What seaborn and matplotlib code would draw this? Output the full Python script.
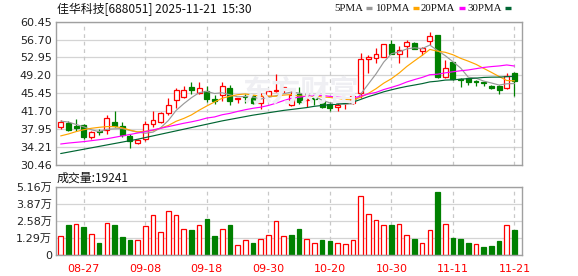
import numpy as np
import pandas as pd
import matplotlib
matplotlib.use("Agg")
import matplotlib.pyplot as plt
from matplotlib.lines import Line2D
import seaborn as sns

# ---------------- data ----------------
dates = ["08-22", "08-25", "08-26", "08-27", "08-28", "08-29", "09-01", "09-02", "09-03", "09-04",
         "09-05", "09-08", "09-09", "09-10", "09-11", "09-12", "09-15", "09-16", "09-17", "09-18",
         "09-19", "09-22", "09-23", "09-24", "09-25", "09-26", "09-29", "09-30", "10-09", "10-10",
         "10-13", "10-14", "10-15", "10-16", "10-17", "10-20", "10-21", "10-22", "10-23", "10-24",
         "10-27", "10-28", "10-29", "10-30", "10-31", "11-03", "11-04", "11-05", "11-06", "11-07",
         "11-10", "11-11", "11-12", "11-13", "11-14", "11-17", "11-18", "11-19", "11-20", "11-21"]

opens = [38.4, 39.2, 38.6, 38.7, 36.35, 37.6, 37.75, 39.35, 38.55, 36.5,
         34.95, 35.8, 39.1, 39.45, 41.2, 44.0, 44.6, 46.7, 45.6, 45.9,
         44.25, 45.0, 46.6, 44.2, 44.8, 45.0, 43.3, 44.8, 45.85, 46.5,
         42.9, 45.2, 44.05, 44.45, 43.85, 43.2, 42.5, 43.3, 43.35, 45.5,
         52.7, 52.8, 53.1, 55.8, 53.65, 55.4, 56.05, 54.4, 56.5, 57.65,
         48.8, 52.0, 48.5, 48.6, 48.0, 47.75, 47.05, 47.0, 46.5, 49.75]
highs = [39.8, 39.7, 40.0, 39.1, 37.45, 37.9, 40.9, 41.7, 39.4, 37.0,
         35.9, 39.7, 41.8, 41.5, 44.5, 46.6, 47.0, 47.85, 47.85, 46.95,
         45.1, 47.8, 47.2, 44.5, 45.3, 45.1, 45.4, 46.2, 49.45, 46.85,
         45.9, 46.7, 44.5, 45.0, 44.2, 43.7, 43.35, 43.7, 45.3, 53.9,
         53.5, 55.0, 55.8, 56.6, 55.3, 56.6, 56.1, 55.2, 58.2, 57.7,
         52.4, 52.0, 48.7, 48.6, 48.2, 47.9, 47.2, 47.1, 49.75, 49.8]
lows = [38.0, 37.5, 37.5, 35.9, 35.8, 36.6, 36.9, 38.4, 36.3, 34.0,
        34.7, 35.5, 38.4, 39.3, 40.8, 42.4, 44.5, 45.3, 45.2, 43.6,
        43.2, 43.8, 42.9, 43.3, 43.5, 43.2, 42.1, 44.7, 45.7, 45.4,
        42.7, 43.2, 42.6, 42.95, 42.3, 41.7, 41.8, 42.1, 43.2, 44.5,
        49.75, 51.7, 53.1, 53.6, 51.7, 53.1, 54.7, 53.5, 55.5, 48.7,
        48.6, 48.3, 46.8, 47.1, 47.0, 46.95, 46.4, 45.3, 46.4, 44.9]
closes = [39.35, 37.7, 38.2, 36.3, 37.4, 37.35, 40.2, 38.65, 36.6, 35.4,
          35.6, 39.1, 39.75, 41.2, 43.0, 46.1, 46.2, 46.05, 46.5, 44.3,
          43.9, 46.97, 43.9, 44.45, 44.6, 43.35, 44.8, 45.85, 46.05, 46.7,
          45.1, 43.7, 44.2, 44.3, 42.65, 42.3, 42.98, 43.45, 44.9, 52.55,
          53.0, 53.6, 55.8, 53.7, 54.5, 56.1, 54.8, 54.9, 57.45, 48.8,
          50.7, 48.45, 48.3, 47.75, 47.85, 47.6, 46.5, 46.15, 49.05, 48.1]
volumes = [14400, 22600, 23300, 21100, 15900, 9400, 24100, 22600, 13600, 11400,
           11200, 22300, 30000, 17400, 33000, 30000, 19600, 18800, 22600, 27000,
           14400, 19600, 22600, 7700, 11400, 9400, 12600, 15100, 26000, 14400,
           15100, 19600, 12600, 9200, 11400, 10700, 9200, 8400, 11400, 44900,
           30800, 26800, 22600, 22600, 23300, 15100, 12200, 9200, 19300, 47900,
           23300, 12900, 12200, 9400, 8400, 6200, 6900, 10700, 22600, 19241]

# moving-average values before enough history is in the window
ma5_head = [39.6, 39.4, 38.9, 38.4]
ma10_head = [36.5, 36.9, 37.4, 37.8, 38.1, 38.3, 38.45, 38.45, 38.2]
ma20_head = [34.8, 35.0, 35.15, 35.3, 35.5, 35.7, 35.9, 36.2, 36.5, 36.8, 37.1, 37.4,
             37.75, 38.1, 38.45, 38.8, 39.15, 39.45, 39.8]
ma30_head = [32.8, 33.1, 33.4, 33.7, 34.0, 34.3, 34.6, 34.9, 35.2, 35.5, 35.8, 36.15,
             36.5, 36.85, 37.2, 37.55, 37.9, 38.25, 38.6, 38.95, 39.3, 39.65, 39.95,
             40.25, 40.55, 40.85, 41.1, 41.35, 41.6]

price_ticks = [30.46, 34.21, 37.95, 41.70, 45.45, 49.20, 52.95, 56.70, 60.45]
vol_ticks = [0, 12900, 25800, 38700, 51600]
tick_dates = ["08-27", "09-08", "09-18", "09-30", "10-20", "10-30", "11-11", "11-21"]
ma_names = ["5PMA", "10PMA", "20PMA", "30PMA"]
title_text = "佳华科技[688051] 2025-11-21  15:30"

# ---------------- styling ----------------
sns.set_style("white")
plt.rcParams["font.family"] = ["DejaVu Sans", "Noto Sans CJK SC"]
cjk = ["Noto Sans CJK SC", "DejaVu Sans"]

RED = "#ff0000"
GREEN = "#008000"
MA_COLORS = ["#999999", "#ffa500", "#ff00ff", "#006633"]
GRID = "#d4d4d4"
FRAME = "#a0a0a0"

df = pd.DataFrame({"date": dates, "open": opens, "high": highs, "low": lows,
                   "close": closes, "volume": volumes})
df["x"] = np.arange(len(df))
cs = df["close"]
heads = [ma5_head, ma10_head, ma20_head, ma30_head]
for n, head in zip([5, 10, 20, 30], heads):
    m = cs.rolling(n).mean()
    m.iloc[:len(head)] = head
    df[f"ma{n}"] = m

W, H = 578, 276
fig = plt.figure(figsize=(W / 100, H / 100), dpi=100)
L, R = 56, 522.3
axp = fig.add_axes([L / W, 1 - 164.7 / H, (R - L) / W, (164.7 - 21.7) / H])
axv = fig.add_axes([L / W, 1 - 255.3 / H, (R - L) / W, (255.3 - 186.7) / H])

xlim = (-0.61, 60.02)
tick_pos = [dates.index(d) for d in tick_dates]

# watermark
fig.text(300 / W, 1 - 92 / H, "东方财富", family=cjk, fontsize=21, fontweight="bold",
         color="#efeff3", ha="center", va="center", zorder=0)
axp.patch.set_alpha(0)

# candles
up = df["close"] >= df["open"]
bw = 0.64
for i, r in df.iterrows():
    col = RED if up[i] else GREEN
    axp.vlines(r["x"], r["low"], r["high"], color=col, lw=0.9, zorder=2)
    lo = min(r["open"], r["close"])
    h = max(abs(r["close"] - r["open"]), 0.12)
    if up[i]:
        axp.bar(r["x"], h, bottom=lo, width=bw, facecolor="white", edgecolor=col,
                lw=0.9, zorder=2.5)
    else:
        axp.bar(r["x"], h, bottom=lo, width=bw, facecolor=col, edgecolor=col,
                lw=0.9, zorder=2.5)

for n, c in zip([5, 10, 20, 30], MA_COLORS):
    sns.lineplot(data=df, x="x", y=f"ma{n}", ax=axp, color=c, lw=0.85, zorder=3)

axp.set_xlim(*xlim)
axp.set_ylim(price_ticks[0], price_ticks[-1])
axp.set_yticks(price_ticks)
axp.set_yticklabels([f"{v:.2f}" for v in price_ticks])
axp.set_xticks(tick_pos)
axp.set_xticklabels([])

# volume
vup = df["close"].diff().fillna(df["close"] - df["open"]) >= 0
for i, r in df.iterrows():
    col = RED if vup[i] else GREEN
    if vup[i]:
        axv.bar(r["x"], r["volume"], width=0.6, facecolor="white", edgecolor=col, lw=0.9, zorder=2)
    else:
        axv.bar(r["x"], r["volume"], width=0.6, facecolor=col, edgecolor=col, lw=0.9, zorder=2)
axv.set_xlim(*xlim)
axv.set_ylim(vol_ticks[0], vol_ticks[-1])
axv.set_yticks(vol_ticks)
axv.set_yticklabels(["0" if v == 0 else f"{v / 10000:.2f}万" for v in vol_ticks],
                    family=["DejaVu Sans", "Noto Sans CJK SC"])
axv.set_xticks(tick_pos)
axv.set_xticklabels(tick_dates)

for ax in (axp, axv):
    ax.set_xlabel("")
    ax.set_ylabel("")
    for s in ax.spines.values():
        s.set_color(FRAME)
        s.set_linewidth(1.0)
    for y in ax.get_yticks():
        ax.axhline(y, color=GRID, lw=0.9, zorder=1)
    for x in tick_pos:
        ax.axvline(x, color="#c8c8c8", lw=0.9, ls=(0, (3, 3)), zorder=1)
    ax.tick_params(axis="both", length=0, labelsize=8, colors="#222222")
    ax.tick_params(axis="y", pad=3)
axv.tick_params(axis="x", pad=6, labelcolor=RED, labelsize=8)

# texts
fig.text(57 / W, 1 - 9 / H, title_text, family=cjk, fontsize=8.6, color="#111111",
         ha="left", va="center")
fig.text(57 / W, 1 - 178 / H, f"成交量:{volumes[-1]}", family=cjk, fontsize=8.6,
         color="#111111", ha="left", va="center")

leg_end = [363, 409.5, 454.5, 501.5]
dash_x = [(365.5, 371.5), (412.5, 418.5), (459, 465), (505, 511)]
for name, lx, (d0, d1), c in zip(ma_names, leg_end, dash_x, MA_COLORS):
    fig.text(lx / W, 1 - 8.5 / H, name, family=["Liberation Serif", "DejaVu Serif"],
             fontsize=7.8, color="#111111", ha="right", va="center")
    fig.add_artist(Line2D([d0 / W, d1 / W], [1 - 8 / H, 1 - 8 / H], color=c, lw=2.4,
                          solid_capstyle="butt"))

fig.savefig("out.png", dpi=100)
